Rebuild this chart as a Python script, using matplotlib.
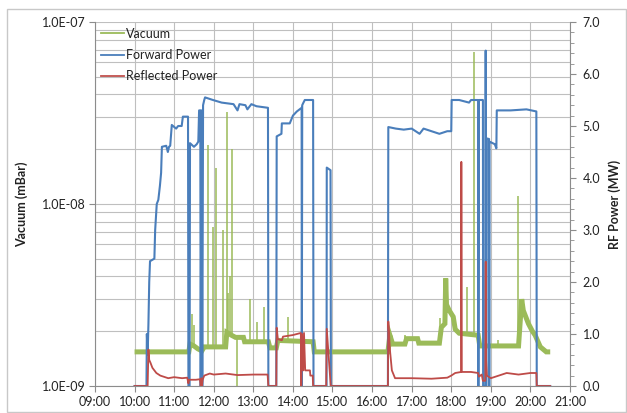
import matplotlib
matplotlib.use("Agg")
import matplotlib.pyplot as plt
from matplotlib.lines import Line2D
from matplotlib.patches import Rectangle
from matplotlib.ticker import FixedLocator, LogLocator, NullFormatter, FuncFormatter
import numpy as np

plt.rcParams['font.family'] = ['Lato', 'DejaVu Sans']

# ---------------- data ----------------
hour_ticks = [9, 10, 11, 12, 13, 14, 15, 16, 17, 18, 19, 20, 21]
hour_labels = ["09:00", "10:00", "11:00", "12:00", "13:00", "14:00", "15:00",
               "16:00", "17:00", "18:00", "19:00", "20:00", "21:00"]
vac_ticks = [1e-9, 1e-8, 1e-7]
vac_labels = ["1.0E-09", "1.0E-08", "1.0E-07"]

# Forward power (MW)
fwd_t = [10.00, 10.30, 10.31, 10.33, 10.35, 10.37, 10.39, 10.50, 10.52, 10.56, 10.60, 10.64, 10.67,
         10.69, 10.80, 10.84, 10.87, 10.90, 10.94, 11.05, 11.10, 11.19, 11.22, 11.35, 11.36, 11.39,
         11.40, 11.50, 11.57, 11.61, 11.63, 11.66, 11.67, 11.69, 11.71, 11.73, 11.76, 11.78,
         11.98, 12.20, 12.50, 12.60, 12.65, 12.80, 12.85, 12.95, 13.08, 13.37, 13.38, 13.58, 13.59,
         13.71, 13.72, 13.92, 14.00, 14.10, 14.22, 14.225, 14.235, 14.26, 14.30, 14.51, 14.52, 14.85,
         14.855, 14.95, 14.96, 16.40, 16.41, 16.60, 16.80, 17.00, 17.20, 17.30, 17.50, 17.70, 17.90,
         18.00, 18.01, 18.20, 18.45, 18.50, 18.68, 18.685, 18.70, 18.80,
         18.805, 18.865, 18.87, 18.875, 18.89, 18.90, 18.955, 18.96, 18.965, 19.10, 19.14, 19.15, 19.50,
         19.90, 20.15, 20.16, 20.50]
fwd_p = [0.0, 0.0, 1.0, 0.6, 1.2, 2.0, 2.4, 2.45, 3.0, 3.5, 3.58, 3.85, 4.1,
         4.6, 4.62, 4.5, 4.6, 4.62, 5.02, 4.95, 5.0, 5.0, 5.18, 5.18, 0.0, 0.0,
         4.67, 4.6, 4.65, 4.7, 5.3, 5.3, 0.0, 5.3, 0.0, 5.4, 5.5, 5.55,
         5.5, 5.45, 5.42, 5.3, 5.42, 5.4, 5.32, 5.42, 5.38, 5.35, 0.0, 0.0, 4.8,
         4.85, 5.05, 5.05, 5.2, 5.28, 5.35, 0.0, 5.4, 5.44, 5.5, 5.5, 0.0, 0.0,
         4.2, 4.15, 0.0, 0.0, 4.98, 4.95, 4.93, 4.95, 4.85, 4.95, 4.9, 4.85, 4.9,
         4.9, 5.5, 5.5, 5.45, 5.5, 5.5, 0.0, 5.5, 5.5,
         0.0, 0.0, 6.45, 0.0, 0.0, 4.76, 4.75, 0.0, 4.7, 4.65, 4.57, 5.3, 5.3,
         5.32, 5.28, 0.0, 0.0]

# Reflected power (MW)
ref_t = [10.00, 10.33, 10.35, 10.37, 10.40, 10.45, 10.55, 10.65, 10.85, 11.00, 11.20, 11.33, 11.36,
         11.38, 11.55, 11.65, 11.67, 11.69, 11.70, 11.72, 11.76, 11.90, 12.00, 12.30, 12.60, 13.00,
         13.36, 13.38, 13.58, 13.59, 13.62, 13.72, 13.75, 14.00, 14.20, 14.21, 14.23, 14.26, 14.28,
         14.31, 14.43, 14.44, 14.50, 14.51, 14.84, 14.855, 14.955, 16.40, 16.41, 16.45, 16.50, 16.58,
         17.00, 17.50, 17.90, 18.00, 18.10, 18.25, 18.255, 18.265, 18.50, 18.68, 18.70, 18.77, 18.80,
         18.86, 18.871, 18.88, 18.90, 19.00, 19.20, 19.40, 19.70, 20.00, 20.15, 20.16, 20.50]
ref_p = [0.0, 0.0, 0.7, 0.5, 0.45, 0.35, 0.25, 0.2, 0.15, 0.17, 0.15, 0.16, 0.05,
         0.12, 0.12, 0.13, 0.0, 0.15, 0.0, 0.12, 0.2, 0.24, 0.22, 0.24, 0.21, 0.22,
         0.22, 0.0, 0.0, 1.12, 0.9, 0.88, 0.95, 0.98, 1.02, 0.0, 1.0, 0.3, 1.02,
         0.3, 0.3, 0.2, 0.2, 0.0, 0.0, 1.1, 0.0, 0.0, 1.24, 0.7, 0.3, 0.15,
         0.15, 0.14, 0.16, 0.2, 0.25, 0.27, 4.31, 0.27, 0.27, 0.25, 0.18, 0.22, 0.1,
         0.1, 2.39, 0.5, 0.2, 0.15, 0.2, 0.25, 0.22, 0.25, 0.25, 0.0, 0.0]

# Vacuum baseline (mbar)
vac_t = [10.00, 11.37, 11.40, 11.50, 11.60, 11.70, 11.76, 12.30, 12.33, 12.45, 12.55, 12.75, 12.78,
         13.38, 13.42, 13.58, 13.62, 14.51, 14.54, 16.40, 16.45, 16.52, 16.83, 16.87, 17.15, 17.18,
         17.70, 17.75, 17.84, 17.86, 17.88, 17.95, 18.05, 18.10, 18.20, 18.68, 18.72, 19.70, 19.78,
         19.82, 19.95, 20.05, 20.12, 20.25, 20.40, 20.50]
vac_v = [1.54e-9, 1.54e-9, 1.70e-9, 1.66e-9, 1.60e-9, 1.56e-9, 1.64e-9, 1.64e-9, 1.97e-9, 1.90e-9,
         1.85e-9, 1.85e-9, 1.75e-9, 1.75e-9, 1.62e-9, 1.62e-9, 1.78e-9, 1.75e-9, 1.54e-9, 1.54e-9,
         1.90e-9, 1.70e-9, 1.70e-9, 1.82e-9, 1.82e-9, 1.72e-9, 1.72e-9, 2.1e-9, 2.2e-9, 3.9e-9,
         2.8e-9, 2.6e-9, 2.4e-9, 2.05e-9, 1.95e-9, 1.90e-9, 1.66e-9, 1.66e-9, 3.0e-9, 2.6e-9,
         2.2e-9, 2.0e-9, 1.9e-9, 1.64e-9, 1.54e-9, 1.54e-9]

# Vacuum spikes (time, peak mbar)
spike_t = [11.44, 11.51, 11.86, 11.97, 12.06, 12.24, 12.33, 12.37, 12.41, 12.47, 12.58, 12.92,
           13.09, 13.27, 13.88, 14.22, 16.83, 17.72, 18.39, 18.58, 19.18, 19.68]
spike_v = [2.5e-9, 2.16e-9, 2.1e-8, 7.5e-9, 1.57e-8, 7.2e-9, 3.2e-8, 3.24e-9, 4.0e-9, 2.0e-8,
           1.0e-9, 3.0e-9, 2.25e-9, 2.73e-9, 2.4e-9, 2.6e-9, 1.9e-9, 2.35e-9, 3.5e-9, 6.8e-8,
           1.8e-9, 1.1e-8]

GREEN = "#9BBB59"
BLUE = "#4A7EBB"
RED = "#BE4B48"
GRID = "#BFBFBF"
AXC = "#8C8C8C"
TXT = "#222222"

# ---------------- figure ----------------
fig = plt.figure(figsize=(6.27, 4.13), dpi=100)
fig.patches.append(Rectangle((7 / 627, 1 / 413), 619 / 627, 1 - 10 / 413, transform=fig.transFigure,
                             fill=False, edgecolor="#C8C8C8", linewidth=1.0))
ax = fig.add_axes([95 / 627, 1 - 386 / 413, 475 / 627, 364 / 413])
ax2 = ax.twinx()

ax.set_yscale("log")
ax.set_ylim(1e-9, 1e-7)
ax.set_xlim(9, 21)
ax2.set_ylim(0, 7)

ax.xaxis.set_major_locator(FixedLocator(hour_ticks))
ax.set_xticklabels(hour_labels)
ax.yaxis.set_major_locator(FixedLocator(vac_ticks))
ax.set_yticklabels(vac_labels)
ax.yaxis.set_minor_locator(LogLocator(base=10, subs=np.arange(2, 10), numticks=20))
ax.yaxis.set_minor_formatter(NullFormatter())
ax.grid(True, which="major", axis="both", color=GRID, linewidth=0.8)
ax.grid(True, which="minor", axis="y", color=GRID, linewidth=0.8)
ax.set_axisbelow(True)

ax2.yaxis.set_major_locator(FixedLocator(np.arange(0, 7.01, 1.0)))
ax2.yaxis.set_minor_locator(FixedLocator(np.arange(0, 7.01, 0.2)))
ax2.yaxis.set_major_formatter(FuncFormatter(lambda v, p: "%.1f" % v))

for a in (ax, ax2):
    for s in a.spines.values():
        s.set_color(AXC)
        s.set_linewidth(0.8)
    a.spines["top"].set_visible(False)
ax.spines["right"].set_visible(False)
ax2.spines["left"].set_visible(False)
ax2.spines["bottom"].set_visible(False)

ax.tick_params(axis="both", which="major", length=4, color=AXC, labelsize=9, labelcolor=TXT, pad=3)
ax.tick_params(axis="y", which="minor", length=0)
ax2.tick_params(axis="y", which="major", length=4, color=AXC, labelsize=9, labelcolor=TXT, pad=5)
ax2.tick_params(axis="y", which="minor", length=3, color=AXC)

ax.set_ylabel("Vacuum (mBar)", fontsize=9, fontweight="bold", color=TXT, labelpad=10)
ax2.set_ylabel("RF Power (MW)", fontsize=9, fontweight="bold", color=TXT, labelpad=6)

# vacuum
ax.plot(vac_t, vac_v, color=GREEN, linewidth=3.6, solid_capstyle="butt", solid_joinstyle="miter")
base_at_spike = np.interp(spike_t, vac_t, vac_v)
ax.vlines(spike_t, base_at_spike, spike_v, color=GREEN, linewidth=1.1)

# power
ax2.plot(fwd_t, fwd_p, color=BLUE, linewidth=1.5)
ax2.plot(ref_t, ref_p, color=RED, linewidth=1.3)

handles = [Line2D([], [], color=GREEN, linewidth=1.3),
           Line2D([], [], color=BLUE, linewidth=1.3),
           Line2D([], [], color="#C0504D", linewidth=1.3)]
leg = ax2.legend(handles, ["Vacuum", "Forward Power", "Reflected Power"], loc="upper left",
                 bbox_to_anchor=(0.0, 1.0), frameon=False, fontsize=9, handlelength=1.9,
                 handletextpad=0.15, labelspacing=0.75, borderaxespad=0.3, borderpad=0.15)
for t in leg.get_texts():
    t.set_color(TXT)

fig.savefig("out.png", dpi=100)
